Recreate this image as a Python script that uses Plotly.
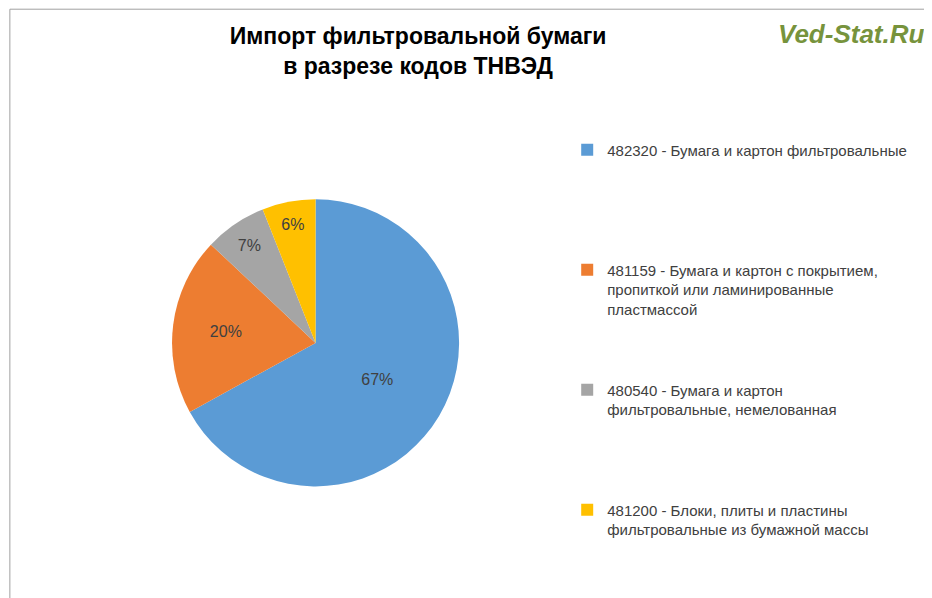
import plotly.graph_objs as go

labels = [
    "482320 - Бумага и картон фильтровальные",
    "481159 - Бумага и картон с покрытием,<br>пропиткой или ламинированные<br>пластмассой",
    "480540 - Бумага и картон<br>фильтровальные, немелованная",
    "481200 - Блоки, плиты и пластины<br>фильтровальные из бумажной массы",
]
values = [67, 20, 7, 6]
colors = ["#5B9BD5", "#ED7D31", "#A5A5A5", "#FFC000"]
# blank lines to spread legend items like the original
pads = ["<br> <br> <br> <br> <br> ", "<br> <br> <br> ", "<br> <br> <br> <br> ", ""]

fig = go.Figure()
fig.add_trace(
    go.Pie(
        labels=[l + p for l, p in zip(labels, pads)],
        values=values,
        sort=False,
        direction="clockwise",
        rotation=0,
        marker=dict(colors=colors, line=dict(width=0)),
        textinfo="percent",
        texttemplate="%{percent:.0%}",
        textposition="inside",
        insidetextfont=dict(size=16, color="#404040"),
        domain=dict(x=[0.06, 0.6], y=[0.2, 0.68]),
        hoverinfo="label+percent",
    )
)

fig.update_layout(
    width=932,
    height=598,
    margin=dict(l=0, r=0, t=0, b=0),
    paper_bgcolor="white",
    font=dict(family="Liberation Sans, Arial", size=15, color="#404040"),
    title=dict(
        text="<b>Импорт фильтровальной бумаги<br>в разрезе кодов ТНВЭД</b>",
        x=0.44, xanchor="center", y=0.94, yanchor="top",
        font=dict(size=23, color="black"),
    ),
    legend=dict(
        x=0.6, xanchor="left", y=0.79, yanchor="top",
        valign="top", itemsizing="constant",
        font=dict(size=15, color="#404040"),
    ),
    annotations=[
        dict(
            text="<b><i>Ved-Stat.Ru</i></b>",
            x=0.985, y=0.985, xref="paper", yref="paper",
            xanchor="right", yanchor="top", showarrow=False,
            font=dict(size=26, color="#77933C"),
        )
    ],
    shapes=[
        dict(type="rect", xref="paper", yref="paper", x0=0.002, y0=0.003, x1=0.997, y1=0.998,
             line=dict(color="#A0A0A0", width=1))
    ],
)

fig.write_html("out.html")
